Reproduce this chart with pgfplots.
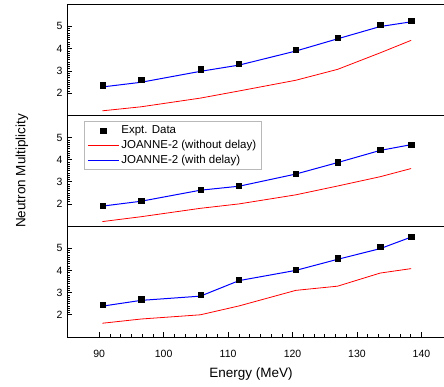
\documentclass[border=0pt]{standalone}
\usepackage{fontspec}
\setmainfont{Liberation Sans}
\usepackage{pgfplots}
\pgfplotsset{compat=1.18}
\pgfplotsset{
  panel/.style={
    scale only axis, width=377pt, height=111pt,
    xmin=85, xmax=143.5, ymin=1, ymax=6,
    ytick={2,3,4,5}, minor y tick num=9, ytick pos=left, tick align=inside,
    major tick length=5pt, minor tick length=2.7pt,
    axis line style={line width=0.8pt},
    every tick/.style={black, line width=0.6pt},
    /pgf/number format/assume math mode=true,
    tick label style={font=\fontsize{10.5}{12}\selectfont},
    yticklabel style={xshift=-1pt},
  },
  expt/.style={only marks, mark=square*, mark size=2.6pt, black},
  nodel/.style={red, line width=0.8pt, mark=none},
  wdel/.style={blue, line width=1pt, mark=none},
}
\begin{document}
\begin{tikzpicture}
% bottom panel
\begin{axis}[panel, at={(0pt,0pt)}, anchor=south west,
  xtick={90,100,...,140}, minor x tick num=5, xtick pos=bottom,
  xticklabel style={yshift=-10pt},
  xlabel={Energy (MeV)},
  xlabel style={font=\fontsize{13.5}{15}\selectfont, at={(axis description cs:0.488,-0.335)}, anchor=center},
]
\addplot[nodel] coordinates {(90.5,1.62) (96.5,1.81) (105.7,2.0) (111.7,2.4) (120.5,3.1) (127,3.29) (133.6,3.88) (138.4,4.08)};
\addplot[wdel] coordinates {(90.5,2.39) (96.5,2.65) (105.7,2.84) (111.7,3.54) (120.5,4.00) (127,4.50) (133.6,4.98) (138.4,5.50)};
\addplot[expt] coordinates {(90.5,2.44) (96.5,2.70) (105.7,2.89) (111.7,3.59) (120.5,4.04) (127,4.55) (133.6,5.05) (138.4,5.50)};
\end{axis}
% middle panel
\begin{axis}[panel, at={(0pt,111pt)}, anchor=south west, height=110.5pt,
  xtick=\empty,
  ylabel={Neutron Multiplicity},
  ylabel style={font=\fontsize{13.5}{15}\selectfont, at={(axis description cs:-0.12,0.5)}, anchor=center},
  legend image code/.code={\draw[mark repeat=2,mark phase=2] plot coordinates {(0pt,0pt) (15.5pt,0pt) (31pt,0pt)};},
  legend style={at={(axis description cs:0.045,0.946)}, anchor=north west,
    draw=gray!55, line width=0.8pt, font=\fontsize{11.5}{13}\selectfont,
    row sep=1pt, inner xsep=3pt, inner ysep=2pt},
  legend cell align=left,
]
\addlegendimage{expt}
\addlegendentry{Expt. Data}
\addlegendimage{nodel}
\addlegendentry{JOANNE-2 (without delay)}
\addlegendimage{wdel}
\addlegendentry{JOANNE-2 (with delay)}
\addplot[nodel, forget plot] coordinates {(90.5,1.2) (96.5,1.42) (105.7,1.8) (111.7,2.0) (120.5,2.41) (127,2.81) (133.6,3.23) (138.4,3.6)};
\addplot[wdel, forget plot] coordinates {(90.5,1.9) (96.5,2.12) (105.7,2.62) (111.7,2.8) (120.5,3.35) (127,3.87) (133.6,4.42) (138.4,4.68)};
\addplot[expt, forget plot] coordinates {(90.5,1.92) (96.5,2.15) (105.7,2.64) (111.7,2.84) (120.5,3.38) (127,3.89) (133.6,4.44) (138.4,4.69)};
\end{axis}
% top panel
\begin{axis}[panel, at={(0pt,221.5pt)}, anchor=south west, height=111.5pt,
  xtick=\empty,
]
\addplot[nodel] coordinates {(90.5,1.21) (96.5,1.39) (105.7,1.78) (111.7,2.1) (120.5,2.58) (127,3.07) (133.6,3.81) (138.4,4.37)};
\addplot[wdel] coordinates {(90.5,2.28) (96.5,2.49) (105.7,2.98) (111.7,3.26) (120.5,3.89) (127,4.44) (133.6,4.99) (138.4,5.2)};
\addplot[expt] coordinates {(90.5,2.36) (96.5,2.61) (105.7,3.08) (111.7,3.34) (120.5,3.95) (127,4.48) (133.6,5.08) (138.4,5.24)};
\end{axis}
\pgfresetboundingbox
\path[use as bounding box] (-67pt,-50pt) rectangle (377pt,337pt);
\end{tikzpicture}
\end{document}
